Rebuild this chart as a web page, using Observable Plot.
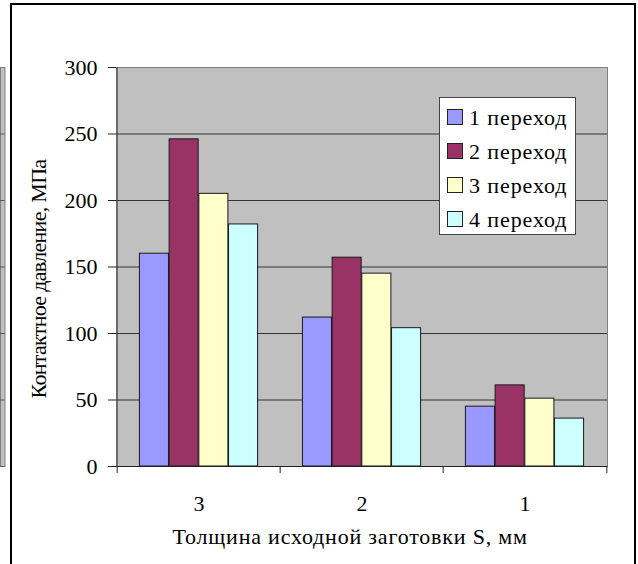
<!DOCTYPE html>
<html>
<head>
<meta charset="utf-8">
<script src="https://cdn.jsdelivr.net/npm/d3@7"></script>
<script src="https://cdn.jsdelivr.net/npm/@observablehq/plot@0.6"></script>
<style>
  html, body { margin: 0; padding: 0; background: #fff; }
  #page { position: relative; width: 638px; height: 564px; overflow: hidden; background: #fff; }
  #page svg { position: absolute; left: 0; top: 0; }
  #page svg text { font-family: "Liberation Serif", "Times New Roman", serif; }
  #box {
    position: absolute; left: 10px; top: 3px; width: 622px; height: 580px;
    border-top: 2px solid #000; border-left: 2px solid #000; border-right: 2.5px solid #000;
  }
</style>
</head>
<body>
<div id="page"></div>
<script>
// Blank thickness groups (mm) along the x axis
const groups = ["3", "2", "1"];
// Drawing passes
const series = ["1 переход", "2 переход", "3 переход", "4 переход"];
// Contact pressure, MPa, for each pass (one value per group)
const pass1 = [160, 112, 45];
const pass2 = [246, 157, 61];
const pass3 = [205, 145, 51];
const pass4 = [182, 104, 36];
const yTicks = [0, 50, 100, 150, 200, 250, 300];
const colors = ["#9999ff", "#993366", "#ffffcc", "#ccffff"];
const yTitle = "Контактное давление, МПа";
const xTitle = "Толщина исходной заготовки S, мм";

const passes = [pass1, pass2, pass3, pass4];
const rows = [];
series.forEach((s, i) => groups.forEach((g, j) => rows.push({group: g, series: s, value: passes[i][j]})));

const W = 638, H = 564;
const mL = 116, mR = 31, mT = 67, mB = 98;
const band = (W - mL - mR) / groups.length;
const barW = band * 0.1815;
const pad = (band - series.length * barW) / 2;
const font = "'Liberation Serif', 'Times New Roman', serif";

const barMarks = series.map((s, i) =>
  Plot.barY(rows.filter(d => d.series === s), {
    x: "group", y: "value", fill: "series",
    stroke: "#1a1a1a", strokeWidth: 1,
    insetLeft: pad + i * barW,
    insetRight: band - pad - (i + 1) * barW
  })
);

const chart = Plot.plot({
  width: W, height: H,
  marginLeft: mL, marginRight: mR, marginTop: mT, marginBottom: mB,
  style: {background: "transparent", fontFamily: font, fontSize: "22px", color: "#000"},
  x: {domain: groups, padding: 0, axis: null},
  y: {domain: [0, 300], axis: null},
  color: {domain: series, range: colors},
  marks: [
    Plot.frame({fill: "#c0c0c0", stroke: "#808080"}),
    Plot.gridY(yTicks.slice(1, -1), {stroke: "#333", strokeOpacity: 1}),
    ...barMarks,
    // value axis line and category axis line
    Plot.ruleX([groups[0]], {dx: -band / 2, stroke: "#444"}),
    Plot.ruleY([0], {stroke: "#222"}),
    // category boundary ticks below the axis
    Plot.ruleX(groups, {x: d => d, y1: 0, y2: 0, dx: -band / 2, insetTop: 7, stroke: "#222"}),
    Plot.ruleX([groups[groups.length - 1]], {x: d => d, y1: 0, y2: 0, dx: band / 2, insetTop: 7, stroke: "#222"}),
    Plot.axisY({ticks: yTicks, tickSize: 8, tickPadding: 11, label: null, fontSize: 22, stroke: "#222"}),
    Plot.axisX({tickSize: 0, tickPadding: 29, label: null, fontSize: 22}),
    Plot.text([yTitle], {
      frameAnchor: "left", rotate: -90, lineAnchor: "bottom", textAnchor: "middle",
      dx: -71, dy: 12, fontSize: 22, fill: "#000"
    }),
    Plot.text([xTitle], {
      frameAnchor: "bottom-left", lineAnchor: "bottom", textAnchor: "start",
      dx: 56, dy: 77, fontSize: 22, fill: "#000"
    })
  ]
});

// Tracking of the two axis titles
d3.select(chart).selectAll("text").filter(function () { return this.textContent === xTitle; })
  .style("letter-spacing", "0.8px");
d3.select(chart).selectAll("text").filter(function () { return this.textContent === yTitle; })
  .style("letter-spacing", "-0.7px");

// Legend box inside the plotting area
const color = chart.scale("color");
const lg = d3.select(chart).append("g")
  .attr("font-size", 22).attr("text-anchor", "start").style("letter-spacing", "0.9px");
lg.append("rect").attr("x", 439.5).attr("y", 97.5).attr("width", 136).attr("height", 137)
  .attr("fill", "#fff").attr("stroke", "#444");
series.forEach((s, i) => {
  const top = 109.5 + i * 34;
  lg.append("rect").attr("x", 447.5).attr("y", top).attr("width", 15).attr("height", 15)
    .attr("fill", color.range[color.domain.indexOf(s)]).attr("stroke", "#222");
  lg.append("text").attr("x", 469).attr("y", top + 15.5).attr("fill", "#000").text(s);
});

// Edge of the neighbouring chart on the left
const edge = Plot.plot({
  width: 6, height: H,
  marginLeft: 0, marginRight: 1.5, marginTop: mT, marginBottom: mB,
  style: {background: "transparent"},
  x: {axis: null}, y: {domain: [0, 300], axis: null},
  marks: [
    Plot.frame({fill: "#c0c0c0", stroke: "#808080"}),
    Plot.gridY(yTicks.slice(1, -1), {stroke: "#555", strokeOpacity: 1}),
    Plot.ruleY([0], {stroke: "#555"})
  ]
});

const page = document.getElementById("page");
page.appendChild(chart);
page.appendChild(edge);
const box = document.createElement("div");
box.id = "box";
page.appendChild(box);
</script>
</body>
</html>
